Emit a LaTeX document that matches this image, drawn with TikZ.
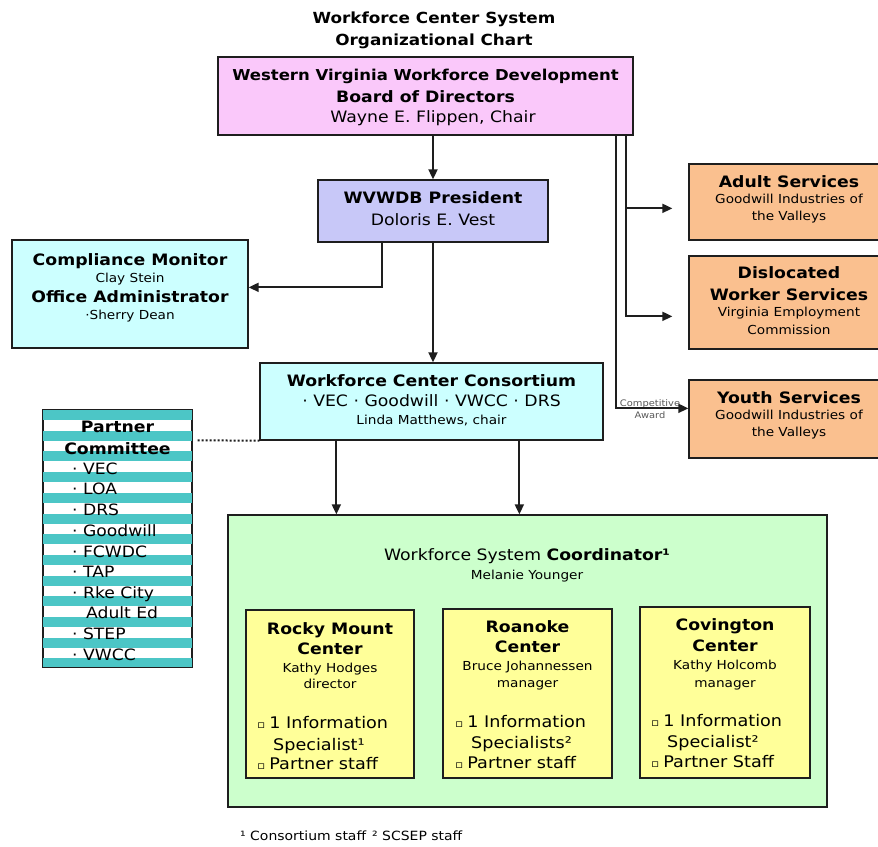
\documentclass[tikz,border=0pt]{standalone}
\usepackage{fontspec}
\setmainfont{DejaVu Sans}[FakeStretch=1.1]
\usetikzlibrary{arrows.meta,calc}
\newcommand\fsz[1]{\fontsize{#1}{#1}\selectfont}
\definecolor{boardc}{RGB}{250,200,250}
\definecolor{presc}{RGB}{200,200,248}
\definecolor{cyanc}{RGB}{204,255,255}
\definecolor{orangec}{RGB}{250,192,143}
\definecolor{greenc}{RGB}{204,255,204}
\definecolor{yellowc}{RGB}{255,255,153}
\definecolor{tealc}{RGB}{76,198,198}
\definecolor{linec}{RGB}{30,30,30}
\begin{document}
\begin{tikzpicture}[x=1pt,y=-1pt,
  box/.style={draw=linec, line width=1.3pt, inner sep=0pt},
  hb/.style={font=\fsz{15.7}\bfseries, anchor=base, inner sep=0pt},
  nt/.style={font=\fsz{15.7}, anchor=base, inner sep=0pt},
  sm/.style={font=\fsz{12.4}, anchor=base, inner sep=0pt},
  lw/.style={font=\fsz{15.6}, anchor=base west, inner sep=0pt},
  bl/.style={font=\fsz{16}, anchor=base west, inner sep=0pt},
  arr/.style={draw=linec, line width=1.8pt, -{Triangle[length=10pt,width=9pt]}},
  ln/.style={draw=linec, line width=1.3pt}]
\useasboundingbox (0,0) rectangle (878,846);
\fill[white] (0,0) rectangle (878,846);

% title
\node[font=\fsz{15.3}\bfseries, anchor=base, inner sep=0pt] (title1) at (434,23) {Workforce Center System};
\node[font=\fsz{15.3}\bfseries, anchor=base, inner sep=0pt] (title2) at (434,45) {Organizational Chart};

% boxes
\node[box, fill=boardc, minimum width=415, minimum height=78] (board) at (425.5,96) {};
\node[box, fill=presc, minimum width=230, minimum height=62] (pres) at (433,211) {};
\node[box, fill=cyanc, minimum width=236, minimum height=108] (comp) at (130,294) {};
\node[box, fill=cyanc, minimum width=343, minimum height=77] (cons) at (431.5,401.5) {};
\node[box, fill=orangec, minimum width=196, minimum height=76] (adult) at (787,202) {};
\node[box, fill=orangec, minimum width=196, minimum height=93] (disl) at (787,302.5) {};
\node[box, fill=orangec, minimum width=196, minimum height=78] (youth) at (787,419) {};
\node[box, fill=white, minimum width=149, minimum height=257] (partner) at (117.5,538.5) {};
\node[box, fill=greenc, minimum width=599, minimum height=292] (green) at (527.5,661) {};
\node[box, fill=yellowc, minimum width=168, minimum height=168] (rocky) at (330,694) {};
\node[box, fill=yellowc, minimum width=169, minimum height=169] (roan) at (527.5,693.5) {};
\node[box, fill=yellowc, minimum width=170, minimum height=171] (cov) at (725,692.5) {};

% partner stripes
\begin{scope}
\clip (partner.south west) rectangle (partner.north east);
\foreach \i in {0,...,12} {
  \fill[tealc] (43,{410+\i*20.7}) rectangle (192,{420+\i*20.7});
}
\end{scope}
\draw[ln] (partner.south west) rectangle (partner.north east);

% board text
\node[hb, font=\fsz{15}\bfseries] (b1) at (425.5,80.5) {Western Virginia Workforce Development};
\node[hb] (b2) at (425.5,102.5) {Board of Directors};
\node[nt] (b3) at (433,122.5) {Wayne E. Flippen, Chair};
% president
\node[hb] (p1) at (433,203.5) {WVWDB President};
\node[nt] (p2) at (433,225.5) {Doloris E. Vest};
% compliance
\node[hb] (c1) at (130,265.5) {Compliance Monitor};
\node[sm] (c2) at (130,282) {Clay Stein};
\node[hb] (c3) at (130,302.5) {Office Administrator};
\node[sm] (c4) at (130,319) {·Sherry Dean};
% consortium
\node[hb] (k1) at (431.5,386.5) {Workforce Center Consortium};
\node[nt] (k2) at (431.5,406.5) {· VEC · Goodwill · VWCC · DRS};
\node[sm] (k3) at (431.5,424) {Linda Matthews, chair};
% adult
\node[hb] (a1) at (789,187.5) {Adult Services};
\node[sm] (a2) at (789,203) {Goodwill Industries of};
\node[sm] (a3) at (789,220) {the Valleys};
% dislocated
\node[hb] (d1) at (789,278.5) {Dislocated};
\node[hb] (d2) at (789,300.5) {Worker Services};
\node[sm] (d3) at (789,316) {Virginia Employment};
\node[sm] (d4) at (789,334) {Commission};
% youth
\node[hb] (y1) at (789,403.5) {Youth Services};
\node[sm] (y2) at (789,419) {Goodwill Industries of};
\node[sm] (y3) at (789,436) {the Valleys};
% competitive award
\node[font=\fsz{9}, text=black!65, anchor=base, inner sep=0pt] (ca1) at (650,406) {Competitive};
\node[font=\fsz{9}, text=black!65, anchor=base, inner sep=0pt] (ca2) at (650,418) {Award};

% partner committee
\node[hb] (pc1) at (117.5,432) {Partner};
\node[hb] (pc2) at (117.5,454) {Committee};
\node[lw] (pi1) at (72,474) {· VEC};
\node[lw] (pi2) at (72,494.5) {· LOA};
\node[lw] (pi3) at (72,515) {· DRS};
\node[lw] (pi4) at (72,536) {· Goodwill};
\node[lw] (pi5) at (72,557) {· FCWDC};
\node[lw] (pi6) at (72,577) {· TAP};
\node[lw] (pi7) at (72,598) {· Rke City};
\node[lw] (pi8) at (86,618) {Adult Ed};
\node[lw] (pi9) at (72,639) {· STEP};
\node[lw] (pi10) at (72,660) {· VWCC};

% green
\node[font=\fsz{15.7}, anchor=base, inner sep=0pt] (g1) at (527,560.5) {Workforce System \textbf{Coordinator¹}};
\node[sm] (g2) at (527,579) {Melanie Younger};

% rocky
\node[hb] (r1) at (330,634.5) {Rocky Mount};
\node[hb] (r2) at (330,654.5) {Center};
\node[sm] (r3) at (330,672) {Kathy Hodges};
\node[sm] (r4) at (330,688) {director};
\node[bl] (r5) at (257,728) {\fsz{11}▫\hspace{4pt}\fsz{16}1 Information};
\node[bl] (r6) at (273,750) {Specialist¹};
\node[bl] (r7) at (257,769) {\fsz{11}▫\hspace{4pt}\fsz{16}Partner staff};
% roanoke
\node[hb] (o1) at (527.5,632.5) {Roanoke};
\node[hb] (o2) at (527.5,652.5) {Center};
\node[sm] (o3) at (527.5,670) {Bruce Johannessen};
\node[sm] (o4) at (527.5,687) {manager};
\node[bl] (o5) at (455,727) {\fsz{11}▫\hspace{4pt}\fsz{16}1 Information};
\node[bl] (o6) at (471,748) {Specialists²};
\node[bl] (o7) at (455,768) {\fsz{11}▫\hspace{4pt}\fsz{16}Partner staff};
% covington
\node[hb] (v1) at (725,630.5) {Covington};
\node[hb] (v2) at (725,651.5) {Center};
\node[sm] (v3) at (725,669) {Kathy Holcomb};
\node[sm] (v4) at (725,687) {manager};
\node[bl] (v5) at (651,726) {\fsz{11}▫\hspace{4pt}\fsz{16}1 Information};
\node[bl] (v6) at (667,747) {Specialist²};
\node[bl] (v7) at (651,767) {\fsz{11}▫\hspace{4pt}\fsz{16}Partner Staff};

% footnote
\node[font=\fsz{12.7}, anchor=base west, inner sep=0pt] (fn) at (240,840) {¹ Consortium staff\hspace{6pt}² SCSEP staff};

% connectors
\draw[arr] (pres.north |- board.south) -- (pres.north);
\coordinate (pc) at ($(pres.south west)+(65,0)$);
\coordinate (cc) at ($(comp.north east)+(0,48)$);
\draw[arr] (pc) |- (cc);
\draw[arr] (pres.south) -- (pres.south |- cons.north);
\coordinate (s1) at ($(cons.south west)+(77,0)$);
\coordinate (s2) at ($(cons.south west)+(260,0)$);
\draw[arr] (s1) -- (s1 |- green.north);
\draw[arr] (s2) -- (s2 |- green.north);
\coordinate (bA) at ($(board.south west)+(399,0)$);
\coordinate (bB) at ($(board.south west)+(409,0)$);
\coordinate (aA) at ($(adult.north west)+(0,45)$);
\coordinate (dA) at ($(disl.north west)+(0,61)$);
\coordinate (yA) at ($(youth.north west)+(0,29)$);
\draw[arr, shorten >=16pt] (bB |- aA) -- (aA);
\draw[arr, shorten >=16pt] (bB) |- (dA);
\draw[arr] (bA) |- (yA);
\draw[draw=linec, line width=2pt, dash pattern=on 2pt off 2pt] ($(partner.north east)+(5,31)$) -- (cons.south west);
\end{tikzpicture}
\end{document}
